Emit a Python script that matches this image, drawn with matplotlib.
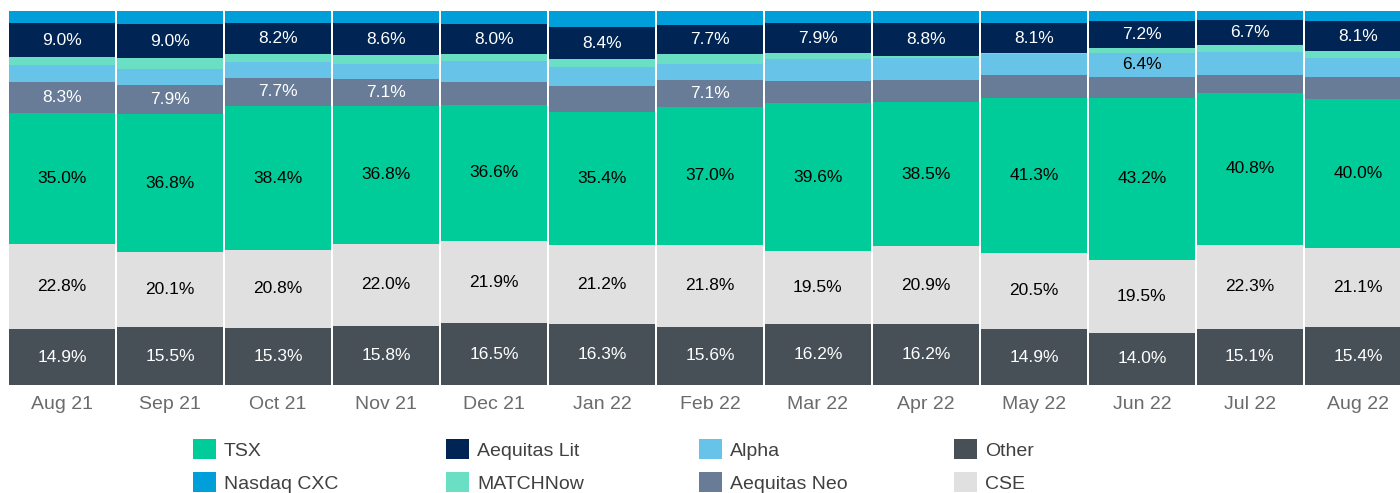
import matplotlib.pyplot as plt
from matplotlib.patches import Patch
import numpy as np

plt.rcParams['font.family'] = ['Liberation Sans', 'DejaVu Sans']

months = ['Aug 21', 'Sep 21', 'Oct 21', 'Nov 21', 'Dec 21', 'Jan 22', 'Feb 22',
          'Mar 22', 'Apr 22', 'May 22', 'Jun 22', 'Jul 22', 'Aug 22']

# market share (%) by venue, bottom of the stack first
other = [14.9, 15.5, 15.3, 15.8, 16.5, 16.3, 15.6, 16.2, 16.2, 14.9, 14.0, 15.1, 15.4]
cse = [22.8, 20.1, 20.8, 22.0, 21.9, 21.2, 21.8, 19.5, 20.9, 20.5, 19.5, 22.3, 21.1]
tsx = [35.0, 36.8, 38.4, 36.8, 36.6, 35.4, 37.0, 39.6, 38.5, 41.3, 43.2, 40.8, 40.0]
neo = [8.3, 7.9, 7.7, 7.1, 6.0, 7.0, 7.1, 6.0, 5.9, 6.1, 5.7, 4.8, 5.9]
alpha = [4.6, 4.3, 4.2, 4.1, 5.6, 5.2, 4.3, 5.8, 6.0, 5.8, 6.4, 6.0, 5.1]
matchnow = [2.1, 2.8, 2.2, 2.4, 1.8, 2.1, 2.8, 1.7, 0.5, 0.1, 1.4, 1.9, 1.7]
lit = [9.0, 9.0, 8.2, 8.6, 8.0, 8.4, 7.7, 7.9, 8.8, 8.1, 7.2, 6.7, 8.1]
nasdaq = [3.3, 3.6, 3.2, 3.2, 3.6, 4.4, 3.7, 3.3, 3.2, 3.2, 2.6, 2.4, 2.7]

# which bars carry a value label for each series
neo_labeled = [0, 1, 2, 3, 6]
alpha_labeled = [10]

series = [
    ('Other', other, '#485057', 'white', range(13)),
    ('CSE', cse, '#dfe0df', 'black', range(13)),
    ('TSX', tsx, '#00cc99', 'black', range(13)),
    ('Aequitas Neo', neo, '#687c98', 'white', neo_labeled),
    ('Alpha', alpha, '#67c3e8', 'black', alpha_labeled),
    ('MATCHNow', matchnow, '#6adfc4', 'black', []),
    ('Aequitas Lit', lit, '#002554', 'white', range(13)),
    ('Nasdaq CXC', nasdaq, '#009fda', 'white', []),
]

fig = plt.figure(figsize=(14, 4.93), dpi=100)
ax = fig.add_axes([0, 108 / 493, 1, 374 / 493])

x = np.arange(len(months))
bottom = np.zeros(len(months))
colors = {}
for name, vals, col, tcol, labeled in series:
    vals = np.array(vals)
    ax.bar(x, vals, bottom=bottom, width=0.98, color=col, linewidth=0)
    for i in labeled:
        ax.text(x[i], bottom[i] + vals[i] / 2, f'{vals[i]:.1f}%',
                ha='center', va='center', fontsize=12.5, color=tcol)
    bottom += vals
    colors[name] = col

ax.set_xlim(-0.574, 12.39)
ax.set_ylim(0, 100)
ax.set_xticks(x)
ax.set_xticklabels(months, fontsize=14, color='#6b6b6b')
ax.tick_params(axis='x', length=0, pad=8)
ax.set_yticks([])
for s in ax.spines.values():
    s.set_visible(False)

# legend: four columns of two entries
legend_cols = [('TSX', 'Nasdaq CXC'), ('Aequitas Lit', 'MATCHNow'),
               ('Alpha', 'Aequitas Neo'), ('Other', 'CSE')]
col_x = [193, 446, 699, 954]
for (a, b), px in zip(legend_cols, col_x):
    handles = [Patch(facecolor=colors[a], label=a), Patch(facecolor=colors[b], label=b)]
    fig.legend(handles=handles, loc='center left', bbox_to_anchor=(px / 1400, 27 / 493),
               frameon=False, fontsize=14, handlelength=1.2, handleheight=1.2,
               handletextpad=0.4, labelspacing=0.65, borderpad=0, borderaxespad=0,
               labelcolor='#404040')

fig.savefig('out.png', dpi=100)
